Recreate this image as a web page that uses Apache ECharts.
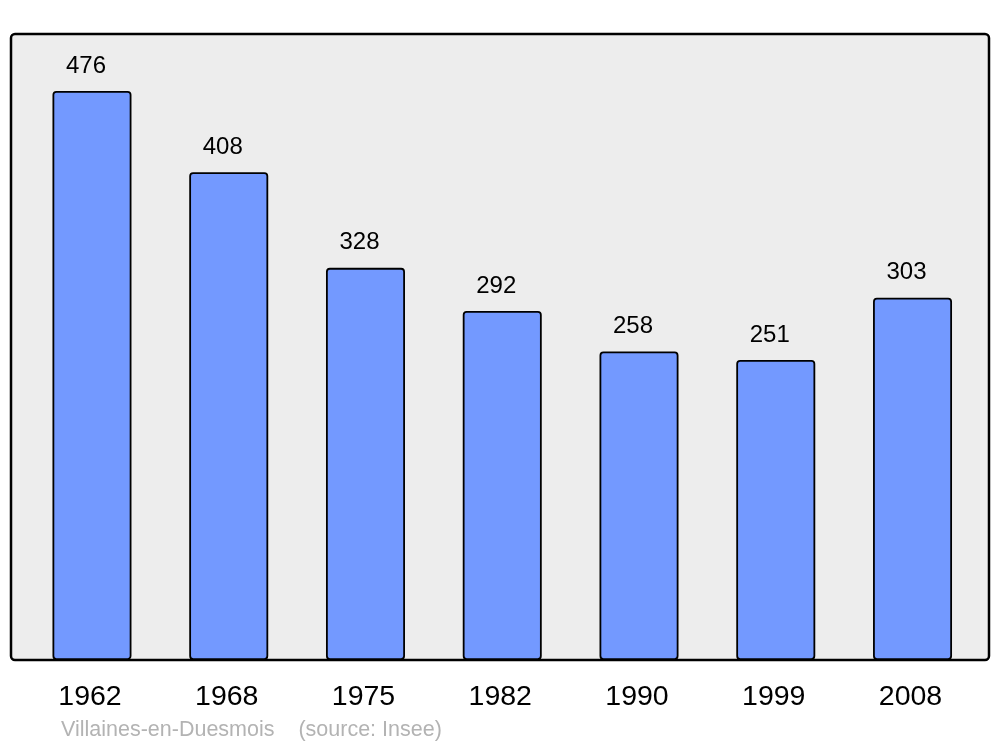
<!DOCTYPE html>
<html>
<head>
<meta charset="utf-8">
<script src="https://cdn.jsdelivr.net/npm/echarts@6/dist/echarts.min.js"></script>
<style>html,body{margin:0;padding:0;background:#fff;}#c{width:1000px;height:747px;}</style>
</head>
<body>
<div id="c"></div>
<script>
var years = ['1962', '1968', '1975', '1982', '1990', '1999', '2008'];
var population = [476, 408, 328, 292, 258, 251, 303];
var sourceText = 'Villaines-en-Duesmois    (source: Insee)';

var chart = echarts.init(document.getElementById('c'));
chart.setOption({
  animation: false,
  backgroundColor: '#ffffff',
  textStyle: { fontFamily: 'Liberation Sans, Arial, sans-serif' },
  title: {
    text: sourceText,
    left: 56, top: 714,
    textStyle: { color: '#b3b3b3', fontSize: 21.5, fontWeight: 'normal', fontFamily: 'Liberation Sans, Arial, sans-serif' }
  },
  graphic: [{
    type: 'rect', z: -100,
    shape: { x: 11, y: 34, width: 978, height: 626, r: 4 },
    style: { fill: '#ededed', stroke: '#000000', lineWidth: 2.5 }
  }],
  grid: { left: 23.6, right: 19.1, top: 34, bottom: 87 },
  xAxis: {
    type: 'category', data: years,
    axisLine: { show: false }, axisTick: { show: false },
    axisLabel: { fontSize: 28.5, color: '#000', margin: 23, padding: [0, 4, 0, 0], fontFamily: 'Liberation Sans, Arial, sans-serif' }
  },
  yAxis: { type: 'value', min: 0, max: 523.6, show: false, splitLine: { show: false } },
  series: [{
    type: 'bar', data: population, barWidth: 79,
    itemStyle: { color: '#7399ff', borderColor: '#000', borderWidth: 1.8, borderRadius: 3 },
    label: { show: true, position: 'top', distance: 13, offset: [-6, 0], fontSize: 24, color: '#000', fontFamily: 'Liberation Sans, Arial, sans-serif' }
  }]
});
</script>
</body>
</html>
